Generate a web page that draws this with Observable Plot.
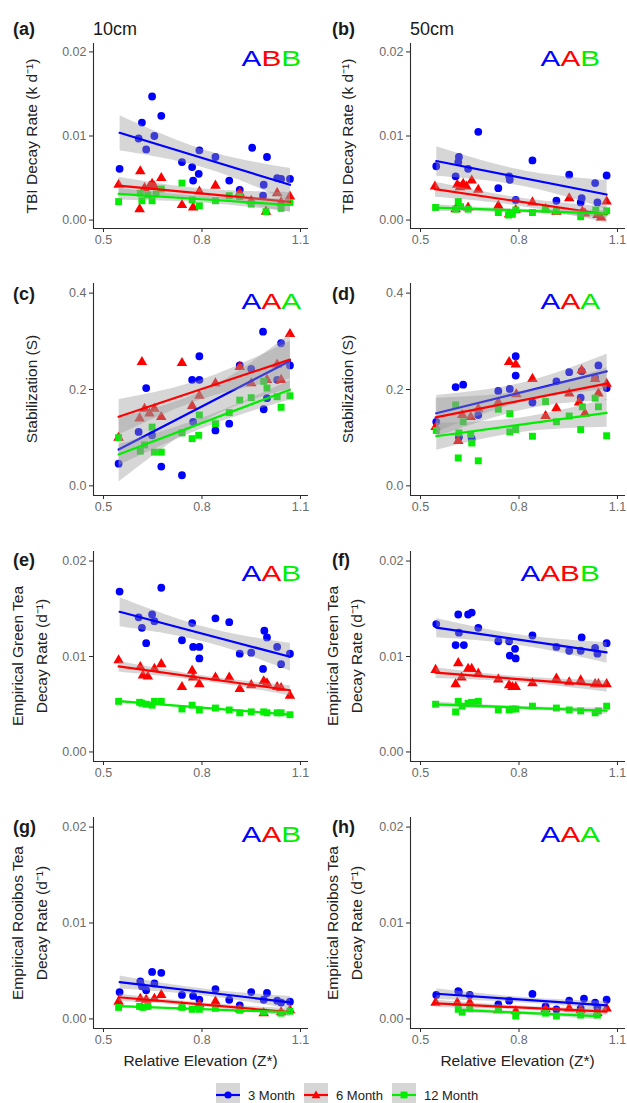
<!DOCTYPE html>
<html>
<head>
<meta charset="utf-8">
<script src="https://cdn.jsdelivr.net/npm/d3@7"></script>
<script src="https://cdn.jsdelivr.net/npm/@observablehq/plot@0.6"></script>
<style>
  body { margin: 0; background: #fff; }
  #fig { position: relative; width: 627px; height: 1103px; overflow: hidden;
         font-family: "Liberation Sans", Arial, Helvetica, sans-serif; }
  .panel { position: absolute; }
  .tag { position: absolute; font-size: 18px; font-weight: bold; color: #1a1a1a; line-height: 1; transform: translateY(-50%); }
  .depth { position: absolute; font-size: 18px; color: #1a1a1a; line-height: 1; transform: translateY(-50%); }
  .ytitle { position: absolute; font-size: 15.5px; color: #222; white-space: nowrap; text-align: center;
            line-height: 24px; transform: translate(-50%, -50%) rotate(-90deg); }
  .xtitle { position: absolute; font-size: 15.5px; color: #222; white-space: nowrap; transform: translate(-50%, -50%); }
  .letters { position: absolute; font-size: 22px; line-height: 1; white-space: nowrap;
             transform: translateY(-50%) scaleX(1.35); transform-origin: right center; }
  .legend { position: absolute; left: 216px; top: 1083px; display: flex; align-items: center;
            font-size: 13px; color: #222; }
  .legend .item { display: flex; align-items: center; margin-right: 9px; }
  .legend svg { margin-right: 8px; }
</style>
</head>
<body>
<div id="fig"></div>
<script>
// Sampling periods, colours and point shapes
const periods = ["3 Month", "6 Month", "12 Month"];
const periodColors = ["#0000FF", "#FF0000", "#00EE00"];
const periodSymbols = ["circle", "triangle", "square"];

// Shared x axis: relative elevation Z*
const xDomain = [0.4695, 1.1245];
const xTicks = [0.5, 0.8, 1.1];

// y axes
const rateDomain = [-0.001, 0.021];
const rateTicks = [0, 0.01, 0.02];
const stabDomain = [-0.02, 0.42];
const stabTicks = [0, 0.2, 0.4];

// (a) TBI decay rate, 10 cm  [relative elevation, k]
const tbi10_3 = [[0.549,0.0061],[0.607,0.0097],[0.617,0.0116],[0.630,0.0084],[0.648,0.0147],[0.655,0.0100],[0.676,0.0124],[0.739,0.0069],[0.770,0.0063],[0.773,0.0047],[0.790,0.0055],[0.792,0.0083],[0.841,0.0075],[0.883,0.0047],[0.915,0.0036],[0.953,0.0086],[0.986,0.0029],[0.988,0.0042],[0.998,0.0075],[1.029,0.0050],[1.041,0.0049],[1.068,0.0049]];
const tbi10_6 = [[0.546,0.0042],[0.610,0.0013],[0.612,0.0058],[0.625,0.0038],[0.640,0.0040],[0.648,0.0043],[0.655,0.0040],[0.676,0.0050],[0.739,0.0018],[0.773,0.0015],[0.792,0.0034],[0.841,0.0041],[0.915,0.0032],[0.950,0.0023],[0.995,0.0010],[1.029,0.0032],[1.041,0.0021],[1.068,0.0028]];
const tbi10_12 = [[0.546,0.0022],[0.612,0.0032],[0.617,0.0023],[0.635,0.0030],[0.648,0.0023],[0.660,0.0031],[0.676,0.0037],[0.739,0.0044],[0.770,0.0024],[0.792,0.0017],[0.841,0.0023],[0.883,0.0029],[0.915,0.0028],[0.950,0.0019],[0.995,0.0010],[1.041,0.0014],[1.068,0.0021]];

// (b) TBI decay rate, 50 cm
const tbi50_3 = [[0.548,0.0064],[0.607,0.0052],[0.615,0.0069],[0.617,0.0075],[0.645,0.0061],[0.676,0.0105],[0.737,0.0038],[0.770,0.0052],[0.772,0.0048],[0.790,0.0024],[0.841,0.0071],[0.914,0.0023],[0.953,0.0054],[0.988,0.0021],[0.991,0.0026],[1.032,0.0044],[1.039,0.0021],[1.067,0.0053]];
const tbi50_6 = [[0.544,0.0040],[0.607,0.0013],[0.612,0.0042],[0.620,0.0039],[0.630,0.0043],[0.640,0.0040],[0.645,0.0015],[0.656,0.0047],[0.676,0.0036],[0.737,0.0017],[0.770,0.0007],[0.790,0.0012],[0.841,0.0021],[0.881,0.0013],[0.914,0.0010],[0.953,0.0026],[0.993,0.0010],[1.001,0.0008],[1.039,0.0006],[1.050,0.0003],[1.067,0.0022]];
const tbi50_12 = [[0.546,0.0015],[0.607,0.0013],[0.615,0.0022],[0.622,0.0016],[0.645,0.0013],[0.737,0.0009],[0.768,0.0006],[0.780,0.0007],[0.790,0.0012],[0.841,0.0009],[0.881,0.0013],[0.914,0.0011],[0.988,0.0004],[1.034,0.0012],[1.067,0.0011]];

// (c) Stabilization, 10 cm
const stab10_3 = [[0.546,0.046],[0.607,0.112],[0.630,0.203],[0.648,0.105],[0.676,0.040],[0.739,0.022],[0.770,0.220],[0.773,0.133],[0.792,0.220],[0.792,0.269],[0.841,0.115],[0.883,0.129],[0.915,0.250],[0.950,0.243],[0.986,0.320],[0.988,0.159],[0.998,0.182],[1.029,0.220],[1.041,0.296],[1.068,0.250]];
const stab10_6 = [[0.546,0.100],[0.610,0.140],[0.617,0.257],[0.625,0.160],[0.640,0.150],[0.655,0.160],[0.676,0.143],[0.739,0.255],[0.770,0.166],[0.792,0.187],[0.841,0.213],[0.915,0.247],[0.950,0.213],[0.998,0.220],[1.029,0.252],[1.041,0.220],[1.068,0.315]];
const stab10_12 = [[0.546,0.100],[0.612,0.072],[0.625,0.085],[0.648,0.122],[0.655,0.070],[0.676,0.070],[0.739,0.110],[0.770,0.098],[0.790,0.105],[0.792,0.147],[0.841,0.129],[0.883,0.152],[0.915,0.178],[0.950,0.183],[0.988,0.217],[0.998,0.203],[1.029,0.185],[1.041,0.163],[1.068,0.187]];

// (d) Stabilization, 50 cm
const stab50_3 = [[0.548,0.133],[0.607,0.205],[0.617,0.101],[0.630,0.210],[0.656,0.098],[0.676,0.147],[0.737,0.197],[0.772,0.201],[0.790,0.269],[0.790,0.229],[0.841,0.173],[0.914,0.217],[0.953,0.236],[0.988,0.183],[0.991,0.238],[1.032,0.224],[1.042,0.250],[1.067,0.203]];
const stab50_6 = [[0.546,0.122],[0.615,0.093],[0.627,0.147],[0.653,0.143],[0.676,0.160],[0.737,0.173],[0.770,0.257],[0.790,0.252],[0.792,0.190],[0.841,0.222],[0.881,0.145],[0.914,0.161],[0.953,0.192],[0.983,0.173],[0.991,0.240],[1.001,0.150],[1.032,0.222],[1.042,0.192],[1.067,0.212]];
const stab50_12 = [[0.548,0.115],[0.607,0.168],[0.615,0.058],[0.617,0.110],[0.630,0.133],[0.653,0.107],[0.656,0.089],[0.676,0.052],[0.737,0.159],[0.772,0.150],[0.772,0.112],[0.790,0.117],[0.841,0.103],[0.881,0.175],[0.914,0.133],[0.953,0.145],[0.988,0.117],[0.993,0.164],[1.032,0.182],[1.042,0.164],[1.067,0.104]];

// (e) Empirical green tea decay rate, 10 cm
const green10_3 = [[0.549,0.0168],[0.607,0.0141],[0.617,0.0130],[0.630,0.0114],[0.648,0.0144],[0.655,0.0137],[0.676,0.0172],[0.739,0.0117],[0.770,0.0135],[0.773,0.0110],[0.792,0.0110],[0.792,0.0098],[0.841,0.0140],[0.883,0.0136],[0.915,0.0103],[0.950,0.0104],[0.986,0.0087],[0.990,0.0127],[0.998,0.0120],[1.029,0.0110],[1.041,0.0092],[1.068,0.0103]];
const green10_6 = [[0.546,0.0096],[0.612,0.0089],[0.620,0.0080],[0.635,0.0079],[0.655,0.0087],[0.676,0.0092],[0.739,0.0068],[0.770,0.0085],[0.773,0.0078],[0.792,0.0071],[0.841,0.0078],[0.883,0.0078],[0.915,0.0066],[0.950,0.0070],[0.988,0.0074],[0.998,0.0072],[1.029,0.0068],[1.041,0.0067],[1.068,0.0059]];
const green10_12 = [[0.546,0.0053],[0.610,0.0052],[0.617,0.0051],[0.630,0.0050],[0.648,0.0049],[0.655,0.0053],[0.676,0.0053],[0.739,0.0045],[0.770,0.0049],[0.792,0.0044],[0.841,0.0046],[0.883,0.0044],[0.915,0.0041],[0.950,0.0042],[0.988,0.0042],[0.998,0.0041],[1.029,0.0041],[1.041,0.0041],[1.068,0.0039]];

// (f) Empirical green tea decay rate, 50 cm
const green50_3 = [[0.548,0.0134],[0.607,0.0112],[0.615,0.0144],[0.617,0.0125],[0.632,0.0112],[0.645,0.0144],[0.656,0.0146],[0.676,0.0130],[0.737,0.0116],[0.770,0.0116],[0.772,0.0101],[0.788,0.0108],[0.790,0.0098],[0.841,0.0122],[0.914,0.0110],[0.953,0.0106],[0.988,0.0106],[0.991,0.0120],[1.032,0.0109],[1.039,0.0103],[1.067,0.0114]];
const green50_6 = [[0.546,0.0086],[0.607,0.0071],[0.615,0.0093],[0.625,0.0078],[0.645,0.0087],[0.656,0.0087],[0.676,0.0082],[0.737,0.0076],[0.770,0.0070],[0.780,0.0068],[0.790,0.0068],[0.841,0.0072],[0.914,0.0077],[0.953,0.0073],[0.988,0.0075],[1.032,0.0071],[1.042,0.0071],[1.067,0.0071]];
const green50_12 = [[0.546,0.0050],[0.607,0.0042],[0.615,0.0053],[0.627,0.0048],[0.645,0.0051],[0.656,0.0052],[0.676,0.0053],[0.737,0.0044],[0.770,0.0044],[0.780,0.0045],[0.790,0.0045],[0.841,0.0048],[0.914,0.0046],[0.953,0.0044],[0.988,0.0043],[1.032,0.0041],[1.042,0.0043],[1.067,0.0048]];

// (g) Empirical rooibos tea decay rate, 10 cm
const rooibos10_3 = [[0.549,0.0028],[0.612,0.0039],[0.617,0.0034],[0.630,0.0030],[0.648,0.0049],[0.655,0.0037],[0.676,0.0048],[0.739,0.0025],[0.773,0.0024],[0.792,0.0020],[0.841,0.0031],[0.883,0.0020],[0.915,0.0014],[0.950,0.0028],[0.988,0.0020],[0.998,0.0027],[1.029,0.0019],[1.041,0.0017],[1.068,0.0018]];
const rooibos10_6 = [[0.546,0.0018],[0.612,0.0021],[0.630,0.0020],[0.655,0.0021],[0.676,0.0025],[0.739,0.0013],[0.792,0.0015],[0.841,0.0018],[0.915,0.0010],[0.988,0.0006],[1.041,0.0007],[1.068,0.0009]];
const rooibos10_12 = [[0.546,0.0012],[0.610,0.0013],[0.620,0.0012],[0.635,0.0013],[0.739,0.0012],[0.770,0.0010],[0.792,0.0010],[0.841,0.0011],[0.915,0.0009],[0.988,0.0007],[1.041,0.0006],[1.068,0.0008]];

// (h) Empirical rooibos tea decay rate, 50 cm
const rooibos50_3 = [[0.548,0.0025],[0.615,0.0029],[0.617,0.0028],[0.650,0.0025],[0.737,0.0015],[0.770,0.0019],[0.841,0.0026],[0.881,0.0013],[0.914,0.0010],[0.953,0.0019],[0.988,0.0011],[0.998,0.0021],[1.032,0.0017],[1.039,0.0012],[1.067,0.0020]];
const rooibos50_6 = [[0.546,0.0017],[0.612,0.0017],[0.650,0.0017],[0.737,0.0009],[0.790,0.0008],[0.881,0.0010],[0.953,0.0011],[0.988,0.0009],[1.039,0.0006],[1.067,0.0011]];
const rooibos50_12 = [[0.615,0.0010],[0.627,0.0007],[0.650,0.0011],[0.737,0.0010],[0.790,0.0003],[0.881,0.0006],[0.914,0.0003],[0.988,0.0004],[1.039,0.0004]];

// Significance letters per period
const letters_a = ["A", "B", "B"];
const letters_b = ["A", "A", "B"];
const letters_c = ["A", "A", "A"];
const letters_d = ["A", "A", "A"];
const letters_e = ["A", "A", "B"];
const letters_f = ["A", "AB", "B"];
const letters_g = ["A", "A", "B"];
const letters_h = ["A", "A", "A"];

const rateTitle = "TBI Decay Rate (k d⁻¹)";
const stabTitle = "Stabilization (S)";
const greenTitle = ["Empirical Green Tea", "Decay Rate (d⁻¹)"];
const rooibosTitle = ["Empirical Rooibos Tea", "Decay Rate (d⁻¹)"];

const panels = [
  {tag: "(a)", depth: "10cm", col: 0, row: 0, series: [tbi10_3, tbi10_6, tbi10_12], letters: letters_a, title: [rateTitle], kind: "rate"},
  {tag: "(b)", depth: "50cm", col: 1, row: 0, series: [tbi50_3, tbi50_6, tbi50_12], letters: letters_b, title: [rateTitle], kind: "rate"},
  {tag: "(c)", col: 0, row: 1, series: [stab10_3, stab10_6, stab10_12], letters: letters_c, title: [stabTitle], kind: "stab"},
  {tag: "(d)", col: 1, row: 1, series: [stab50_3, stab50_6, stab50_12], letters: letters_d, title: [stabTitle], kind: "stab"},
  {tag: "(e)", col: 0, row: 2, series: [green10_3, green10_6, green10_12], letters: letters_e, title: greenTitle, kind: "rate"},
  {tag: "(f)", col: 1, row: 2, series: [green50_3, green50_6, green50_12], letters: letters_f, title: greenTitle, kind: "rate"},
  {tag: "(g)", col: 0, row: 3, series: [rooibos10_3, rooibos10_6, rooibos10_12], letters: letters_g, title: rooibosTitle, kind: "rate"},
  {tag: "(h)", col: 1, row: 3, series: [rooibos50_3, rooibos50_6, rooibos50_12], letters: letters_h, title: rooibosTitle, kind: "rate"}
];

// Grid geometry
const cols = [
  {left: 0,   width: 313, ml: 93, mr: 5, tagX: 13, titleX: 32, titleX2: 29.5, lettersRight: 12},
  {left: 315, width: 312, ml: 95, mr: 2, tagX: 17, titleX: 33, titleX2: 30,   lettersRight: 27}
];
const rows = [
  {top: 43,  bottom: 228,  tagY: 29,  letterDy: 16},
  {top: 283, bottom: 495,  tagY: 294, letterDy: 19},
  {top: 551, bottom: 761,  tagY: 560, letterDy: 23},
  {top: 817, bottom: 1028, tagY: 827, letterDy: 18}
];
const mt = 8, mb = 32;
const font = '"Liberation Sans", Arial, Helvetica, sans-serif';
const fig = document.getElementById("fig");

function addDiv(cls, css, html) {
  const d = document.createElement("div");
  d.className = cls;
  Object.assign(d.style, css);
  d.innerHTML = html;
  fig.appendChild(d);
  return d;
}

for (const p of panels) {
  const c = cols[p.col], r = rows[p.row];
  const table = [];
  p.series.forEach((pts, i) => pts.forEach(([elev, value]) => table.push({elev, value, period: periods[i]})));
  const yDomain = p.kind === "stab" ? stabDomain : rateDomain;
  const yTicks = p.kind === "stab" ? stabTicks : rateTicks;
  const yFormat = p.kind === "stab" ? ".1f" : ".2f";

  const chart = Plot.plot({
    width: c.width,
    height: r.bottom - r.top + mt + mb,
    marginLeft: c.ml, marginRight: c.mr, marginTop: mt, marginBottom: mb,
    style: {fontFamily: font, fontSize: "12.5px", background: "transparent", overflow: "visible"},
    x: {domain: xDomain},
    y: {domain: yDomain},
    color: {domain: periods, range: periodColors},
    symbol: {domain: periods, range: periodSymbols},
    marks: [
      Plot.dot(table, {x: "elev", y: "value", fill: "period", symbol: "period", r: 3.9}),
      Plot.linearRegressionY(table, {x: "elev", y: "value", stroke: "period", fill: "#999999", fillOpacity: 0.4, strokeWidth: 2.2}),
      Plot.ruleX([xDomain[0]], {stroke: "#2b2b2b", strokeWidth: 1.1}),
      Plot.ruleY([yDomain[0]], {stroke: "#2b2b2b", strokeWidth: 1.1}),
      Plot.axisX({ticks: xTicks, tickFormat: ".1f", tickSize: 4, tickPadding: 3, stroke: "#2b2b2b", fill: "#6b6b6b", label: null}),
      Plot.axisY({ticks: yTicks, tickFormat: yFormat, tickSize: 4, tickPadding: 3, stroke: "#2b2b2b", fill: "#6b6b6b", label: null})
    ]
  });
  const holder = addDiv("panel", {left: c.left + "px", top: (r.top - mt) + "px"}, "");
  holder.appendChild(chart);

  // Panel tag and depth heading
  addDiv("tag", {left: (c.left + c.tagX) + "px", top: r.tagY + "px"}, p.tag);
  if (p.depth) addDiv("depth", {left: (c.left + c.ml) + "px", top: r.tagY + "px"}, p.depth);

  // y-axis title
  const twoLines = p.title.length > 1;
  addDiv("ytitle", {left: (c.left + (twoLines ? c.titleX2 : c.titleX)) + "px", top: ((r.top + r.bottom) / 2) + "px"},
         p.title.join("<br>"));

  // Significance letters, one colour per period
  addDiv("letters", {right: (627 - c.left - c.width + c.lettersRight) + "px", top: (r.top + r.letterDy) + "px"},
         p.letters.map((s, i) => `<span style="color:${periodColors[i]}">${s}</span>`).join(""));

  // x-axis title on the bottom row
  if (p.row === 3) {
    addDiv("xtitle", {left: (c.left + (c.ml + c.width - c.mr) / 2) + "px", top: "1061px"}, "Relative Elevation (Z*)");
  }
}

// Legend: line + point keys on a grey band
const legend = addDiv("legend", {}, "");
periods.forEach((name, i) => {
  const item = document.createElement("div");
  item.className = "item";
  const col = periodColors[i];
  let glyph;
  if (periodSymbols[i] === "circle") glyph = `<circle cx="12" cy="12" r="3.6" fill="${col}"/>`;
  else if (periodSymbols[i] === "triangle") glyph = `<path d="M12,7.6 L16.4,15.2 L7.6,15.2 Z" fill="${col}"/>`;
  else glyph = `<rect x="8.6" y="8.6" width="6.8" height="6.8" fill="${col}"/>`;
  item.innerHTML = `<svg width="24" height="24"><rect width="24" height="24" fill="#d6d6d6"/>` +
    `<line x1="0" x2="24" y1="12" y2="12" stroke="${col}" stroke-width="2.2"/>${glyph}</svg><span>${name}</span>`;
  legend.appendChild(item);
});
</script>
</body>
</html>
